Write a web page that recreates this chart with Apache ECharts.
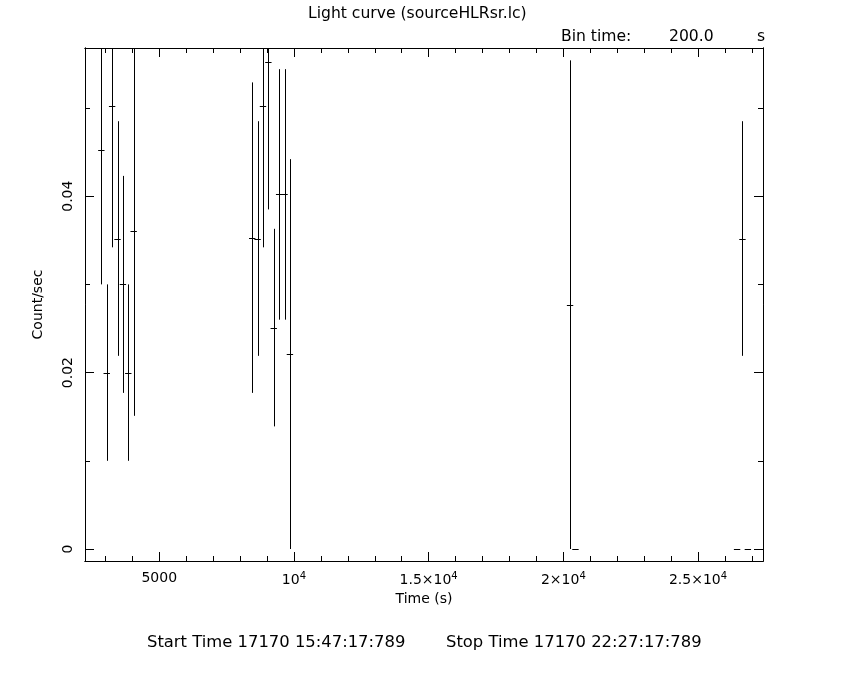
<!DOCTYPE html>
<html>
<head>
<meta charset="utf-8">
<script src="https://cdn.jsdelivr.net/npm/echarts@6/dist/echarts.min.js"></script>
<style>html,body{margin:0;padding:0;background:#fff;}#c{width:850px;height:680px;}</style>
</head>
<body>
<div id="c"></div>
<script>
// Data (bin centres in s, rate in count/s, 1-sigma error)
const times  = [2850, 3050, 3250, 3450, 3650, 3850, 4050,
                8450, 8650, 8850, 9050, 9250, 9450, 9650, 9850,
                20250, 20450,
                26450, 26650, 26850, 27250];
const rates  = [0.0452, 0.0200, 0.0502, 0.0352, 0.0300, 0.0200, 0.0360,
                0.0353, 0.0352, 0.0502, 0.0552, 0.0251, 0.0402, 0.0402, 0.0221,
                0.0277, 0,
                0, 0.0352, 0, 0];
const errors = [0.0152, 0.0100, 0.0160, 0.0133, 0.0123, 0.0100, 0.0209,
                0.0176, 0.0133, 0.0160, 0.0167, 0.0112, 0.0142, 0.0142, 0.0221,
                0.0277, 0,
                0, 0.0133, 0, 0];
const binHalf = 100;
const xMajorTicks = [5000, 10000, 15000, 20000, 25000];
const xMajorLabels = ['5000', '10{s|4}', '1.5×10{s|4}', '2×10{s|4}', '2.5×10{s|4}'];
const xMinorTicks = [3000, 4000, 6000, 7000, 8000, 9000, 11000, 12000, 13000, 14000,
                     16000, 17000, 18000, 19000, 21000, 22000, 23000, 24000, 26000, 27000];
const yMajorTicks = [0, 0.02, 0.04];
const yMajorLabels = ['0', '0.02', '0.04'];
const yMinorTicks = [0.01, 0.03, 0.05];
const titleText = 'Light curve (sourceHLRsr.lc)';
const binText = ['Bin time:', '200.0', 's'];
const footerText = ['Start Time 17170 15:47:17:789', 'Stop Time 17170 22:27:17:789'];

const X_MIN = 2243, X_MAX = 27412, Y_MIN = -0.00136, Y_MAX = 0.0568;
const FONT = 'DejaVu Sans';
const TXT = '15.6px "' + FONT + '"';
const FOOT = '16.4px "' + FONT + '"';

const chart = echarts.init(document.getElementById('c'), null, {renderer: 'canvas'});
const data = times.map((t, i) => [t, rates[i], errors[i]]);

function xAxisDef(pos, ticks, len, labels) {
  return {
    type: 'value', position: pos, min: X_MIN, max: X_MAX,
    axisLine: {show: true, onZero: false, lineStyle: {color: '#000', width: 1}},
    axisTick: {show: true, inside: true, length: len, customValues: ticks, lineStyle: {color: '#000', width: 1}},
    axisLabel: labels ? {
      show: true, customValues: ticks, margin: 10, color: '#000', fontFamily: FONT, fontSize: 14,
      formatter: v => labels[ticks.indexOf(v)] || '',
      rich: {s: {fontSize: 10, fontFamily: FONT, color: '#000', verticalAlign: 'top', padding: [0, 0, 8, 0]}}
    } : {show: false},
    splitLine: {show: false}
  };
}
function yAxisDef(pos, ticks, len, labels) {
  return {
    type: 'value', position: pos, min: Y_MIN, max: Y_MAX,
    axisLine: {show: true, onZero: false, lineStyle: {color: '#000', width: 1}},
    axisTick: {show: true, inside: true, length: len, customValues: ticks, lineStyle: {color: '#000', width: 1}},
    axisLabel: labels ? {
      show: true, customValues: ticks, rotate: 90, margin: 10, color: '#000', fontFamily: FONT, fontSize: 14,
      formatter: v => labels[ticks.indexOf(v)] || ''
    } : {show: false},
    splitLine: {show: false}
  };
}

const xAxes = [
  Object.assign(xAxisDef('bottom', xMajorTicks, 9, xMajorLabels), {
    name: 'Time (s)', nameLocation: 'middle', nameGap: 31,
    nameTextStyle: {color: '#000', fontFamily: FONT, fontSize: 14}
  }),
  xAxisDef('bottom', xMinorTicks, 5, null),
  xAxisDef('top', xMajorTicks, 9, null),
  xAxisDef('top', xMinorTicks, 5, null)
];
const yAxes = [
  Object.assign(yAxisDef('left', yMajorTicks, 9, yMajorLabels), {
    name: 'Count/sec', nameLocation: 'middle', nameGap: 40, nameRotate: 90,
    nameTextStyle: {color: '#000', fontFamily: FONT, fontSize: 14}
  }),
  yAxisDef('left', yMinorTicks, 5, null),
  yAxisDef('right', yMajorTicks, 9, null),
  yAxisDef('right', yMinorTicks, 5, null)
];

chart.setOption({
  animation: false,
  backgroundColor: '#fff',
  grid: {left: 85, right: 87, top: 48, bottom: 119, containLabel: false},
  xAxis: xAxes,
  yAxis: yAxes,
  graphic: [
    {type: 'text', left: 308, top: 6, style: {text: titleText, fill: '#000', font: TXT}},
    {type: 'text', left: 561, top: 29, style: {text: binText[0], fill: '#000', font: TXT}},
    {type: 'text', left: 669, top: 29, style: {text: binText[1], fill: '#000', font: TXT}},
    {type: 'text', left: 757, top: 29, style: {text: binText[2], fill: '#000', font: TXT}},
    {type: 'text', left: 147, top: 635, style: {text: footerText[0], fill: '#000', font: FOOT}},
    {type: 'text', left: 446, top: 635, style: {text: footerText[1], fill: '#000', font: FOOT}}
  ],
  series: [{
    type: 'custom',
    clip: true,
    xAxisIndex: 0, yAxisIndex: 0,
    data: data,
    renderItem: function (params, api) {
      const t = api.value(0), v = api.value(1), e = api.value(2);
      const l = api.coord([t - binHalf, v]);
      const r = api.coord([t + binHalf, v]);
      const children = [{
        type: 'line', shape: {x1: l[0] - 0.5, y1: Math.round(l[1]) + 0.5, x2: r[0] + 0.5, y2: Math.round(r[1]) + 0.5},
        style: {stroke: '#000', lineWidth: 1}
      }];
      if (e > 0) {
        const top = api.coord([t, v + e]);
        const bot = api.coord([t, v - e]);
        const cx = Math.round(top[0]) + 0.5;
        children.push({
          type: 'line', shape: {x1: cx, y1: top[1], x2: cx, y2: bot[1]},
          style: {stroke: '#000', lineWidth: 1}
        });
      }
      return {type: 'group', children: children};
    }
  }]
});
</script>
</body>
</html>
